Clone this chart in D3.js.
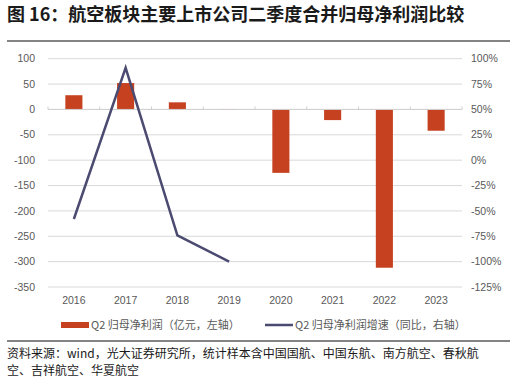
<!DOCTYPE html>
<html><head><meta charset="utf-8">
<script src="https://cdn.jsdelivr.net/npm/d3@7"></script>
<style>
body{margin:0;background:#fff;}
svg{display:block;font-family:"Noto Sans CJK SC","Noto Sans",sans-serif;}
</style></head>
<body>
<script>
const categories = ["2016","2017","2018","2019","2020","2021","2022","2023"];
const profitValues = [28, 52, 14, -1, -125, -21, -312, -42];
const growthValues = [-58, 91, -74, -100, null, null, null, null];
const leftTicks = [100,50,0,-50,-100,-150,-200,-250,-300,-350];
const rightTicks = [100,75,50,25,0,-25,-50,-75,-100,-125];
const titleText = "图 16：航空板块主要上市公司二季度合并归母净利润比较";
const legendBar = "Q2 归母净利润（亿元，左轴）";
const legendLine = "Q2 归母净利润增速（同比，右轴）";
const sourceLines = ["资料来源：wind，光大证券研究所，统计样本含中国国航、中国东航、南方航空、春秋航","空、吉祥航空、华夏航空"];

(function(){
const W=516,H=381;
const svg=d3.select("body").append("svg").attr("width",W).attr("height",H);
const pL=48,pR=462,pT=58.7,pB=287;
const x=d3.scaleBand().domain(categories).range([pL,pR]);
const yL=d3.scaleLinear().domain([-350,100]).range([pB,pT]);
const yR=d3.scaleLinear().domain([-125,100]).range([pB,pT]);
const grey="#595959";

// title
svg.append("text").attr("x",7).attr("y",20.5).attr("font-size",18).attr("font-weight","bold").attr("fill","#1a1a1a").text(titleText);
svg.append("line").attr("x1",7).attr("x2",510).attr("y1",41).attr("y2",41).attr("stroke","#5a5a5a").attr("stroke-width",1.5);

// gridlines
svg.append("g").selectAll("line").data(leftTicks).join("line")
  .attr("x1",pL).attr("x2",pR).attr("y1",d=>yL(d)).attr("y2",d=>yL(d))
  .attr("stroke","#d9d9d9").attr("stroke-width",1);

// left axis labels
svg.append("g").selectAll("text").data(leftTicks).join("text")
  .attr("x",35).attr("y",d=>yL(d)).attr("dy","0.35em").attr("text-anchor","end")
  .attr("font-size",10.5).attr("fill",grey).attr("font-family","Liberation Sans, Arial, sans-serif").text(d=>d);
// right axis labels
svg.append("g").selectAll("text").data(rightTicks).join("text")
  .attr("x",471).attr("y",d=>yR(d)).attr("dy","0.35em").attr("text-anchor","start")
  .attr("font-size",10.5).attr("fill",grey).attr("font-family","Liberation Sans, Arial, sans-serif").text(d=>d+"%");

// bars
const bw=x.bandwidth()*0.33;
svg.append("g").selectAll("rect").data(profitValues).join("rect")
  .attr("x",(d,i)=>x(categories[i])+x.bandwidth()/2-bw/2)
  .attr("width",bw)
  .attr("y",d=>yL(Math.max(0,d)))
  .attr("height",d=>Math.abs(yL(d)-yL(0)))
  .attr("fill","#c5411f");

// zero axis with ticks
svg.append("line").attr("x1",pL).attr("x2",pR).attr("y1",yL(0)).attr("y2",yL(0)).attr("stroke","#d0d0d0");
const bounds=categories.map(c=>x(c)).concat([pR]);
svg.append("g").selectAll("line").data(bounds).join("line")
  .attr("x1",d=>d).attr("x2",d=>d).attr("y1",yL(0)).attr("y2",yL(0)-3).attr("stroke","#d0d0d0");

// line
const pts=growthValues.map((v,i)=>({c:categories[i],v})).filter(p=>p.v!==null);
svg.append("path").datum(pts)
  .attr("d",d3.line().x(p=>x(p.c)+x.bandwidth()/2).y(p=>yR(p.v)))
  .attr("fill","none").attr("stroke","#4b4a70").attr("stroke-width",2.5).attr("stroke-linejoin","miter");

// x labels
svg.append("g").selectAll("text").data(categories).join("text")
  .attr("x",d=>x(d)+x.bandwidth()/2).attr("y",300).attr("dy","0.35em").attr("text-anchor","middle")
  .attr("font-size",10.5).attr("fill",grey).attr("font-family","Liberation Sans, Arial, sans-serif").text(d=>d);

// legend
const ly=325;
svg.append("rect").attr("x",61).attr("y",ly-3).attr("width",28).attr("height",6).attr("fill","#c5411f");
svg.append("text").attr("x",91).attr("y",ly).attr("dy","0.35em").attr("font-size",11).attr("fill",grey).text(legendBar);
svg.append("line").attr("x1",265).attr("x2",293).attr("y1",ly).attr("y2",ly).attr("stroke","#4b4a70").attr("stroke-width",2.5);
svg.append("text").attr("x",295).attr("y",ly).attr("dy","0.35em").attr("font-size",11).attr("fill",grey).text(legendLine);

// footer
svg.append("line").attr("x1",7).attr("x2",510).attr("y1",341).attr("y2",341).attr("stroke","#5a5a5a").attr("stroke-width",1.5);
svg.append("g").selectAll("text").data(sourceLines).join("text")
  .attr("x",7).attr("y",(d,i)=>358+i*17).attr("font-size",12).attr("fill","#1a1a1a").text(d=>d);
})();
</script>
</body></html>
